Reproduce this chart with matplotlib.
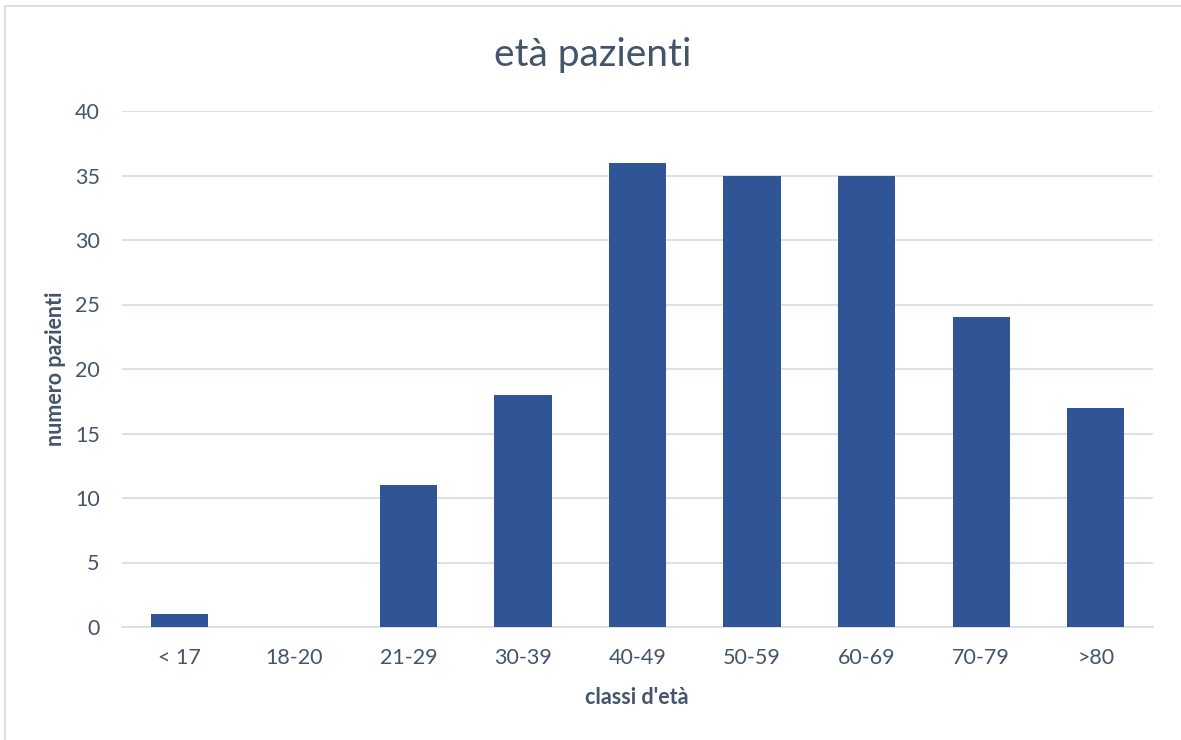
import matplotlib
matplotlib.use("Agg")
import matplotlib.pyplot as plt
from matplotlib.patches import Rectangle

categories = ["< 17", "18-20", "21-29", "30-39", "40-49", "50-59", "60-69", "70-79", ">80"]
values = [1, 0, 11, 18, 36, 35, 35, 24, 17]
yticks = [0, 5, 10, 15, 20, 25, 30, 35, 40]

plt.rcParams['font.family'] = ['Lato', 'DejaVu Sans']
text_color = '#44546A'
bar_color = '#2F5597'
grid_color = '#D9DEE6'

fig = plt.figure(figsize=(11.81, 7.40), dpi=100)
ax = fig.add_axes([122/1181, 1-627/740, (1153-122)/1181, (627-111)/740])

x = list(range(len(categories)))
ax.bar(x, values, width=0.5, color=bar_color, zorder=3)
ax.set_xlim(-0.5, len(categories)-0.5)
ax.set_ylim(0, 40)
ax.set_yticks(yticks)
ax.set_xticks(x)
ax.set_xticklabels(categories)
ax.yaxis.grid(True, color=grid_color, linewidth=1.3, zorder=0)
ax.set_axisbelow(True)
for s in ['top', 'right', 'left']:
    ax.spines[s].set_visible(False)
ax.spines['bottom'].set_color(grid_color)
ax.spines['bottom'].set_linewidth(1.3)
ax.tick_params(axis='both', length=0, colors=text_color, labelsize=15.5)
ax.tick_params(axis='y', pad=16)
ax.tick_params(axis='x', pad=15)

fig.text(637/1181, 1-697/740, "classi d'età", ha='center', va='center', fontsize=15.5,
         fontweight='bold', color=text_color)
fig.text(55/1181, 1-369/740, "numero pazienti", ha='center', va='center', fontsize=15.5,
         fontweight='bold', color=text_color, rotation=90)
fig.text(593/1181, 1-55/740, "età pazienti", ha='center', va='center', fontsize=28, color=text_color)

fig.patches.append(Rectangle((5/1181, -0.01), 1.02, 1-6/740+0.01, transform=fig.transFigure,
                             fill=False, edgecolor='#D9D9D9', linewidth=1.2))

fig.savefig("out.png", dpi=100, facecolor='white')
